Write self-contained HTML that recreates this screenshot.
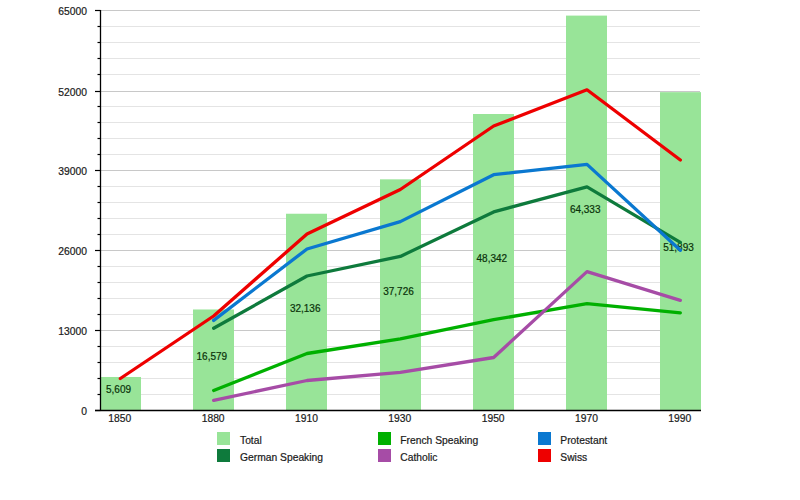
<!DOCTYPE html>
<html><head><meta charset="utf-8"><style>
html,body{margin:0;padding:0;background:#fff;}
svg{display:block;}
.t{font-family:"Liberation Sans",sans-serif;font-size:10.3px;fill:#1a1a1a;stroke:#1a1a1a;stroke-width:0.2px;}
.l{font-family:"Liberation Sans",sans-serif;font-size:10px;fill:#0a320a;stroke:#0a320a;stroke-width:0.2px;}
</style></head><body>
<svg width="800" height="500" viewBox="0 0 800 500">
<rect x="0" y="0" width="800" height="500" fill="#fff"/>
<line x1="101" y1="10.5" x2="700" y2="10.5" stroke="#c8c8c8" stroke-width="1"/>
<line x1="101" y1="26.5" x2="700" y2="26.5" stroke="#e4e4e4" stroke-width="1"/>
<line x1="101" y1="42.5" x2="700" y2="42.5" stroke="#e4e4e4" stroke-width="1"/>
<line x1="101" y1="58.5" x2="700" y2="58.5" stroke="#e4e4e4" stroke-width="1"/>
<line x1="101" y1="74.5" x2="700" y2="74.5" stroke="#e4e4e4" stroke-width="1"/>
<line x1="101" y1="91.5" x2="700" y2="91.5" stroke="#c8c8c8" stroke-width="1"/>
<line x1="101" y1="106.5" x2="700" y2="106.5" stroke="#e4e4e4" stroke-width="1"/>
<line x1="101" y1="122.5" x2="700" y2="122.5" stroke="#e4e4e4" stroke-width="1"/>
<line x1="101" y1="138.5" x2="700" y2="138.5" stroke="#e4e4e4" stroke-width="1"/>
<line x1="101" y1="154.5" x2="700" y2="154.5" stroke="#e4e4e4" stroke-width="1"/>
<line x1="101" y1="170.5" x2="700" y2="170.5" stroke="#c8c8c8" stroke-width="1"/>
<line x1="101" y1="186.5" x2="700" y2="186.5" stroke="#e4e4e4" stroke-width="1"/>
<line x1="101" y1="202.5" x2="700" y2="202.5" stroke="#e4e4e4" stroke-width="1"/>
<line x1="101" y1="218.5" x2="700" y2="218.5" stroke="#e4e4e4" stroke-width="1"/>
<line x1="101" y1="234.5" x2="700" y2="234.5" stroke="#e4e4e4" stroke-width="1"/>
<line x1="101" y1="250.5" x2="700" y2="250.5" stroke="#c8c8c8" stroke-width="1"/>
<line x1="101" y1="266.5" x2="700" y2="266.5" stroke="#e4e4e4" stroke-width="1"/>
<line x1="101" y1="282.5" x2="700" y2="282.5" stroke="#e4e4e4" stroke-width="1"/>
<line x1="101" y1="298.5" x2="700" y2="298.5" stroke="#e4e4e4" stroke-width="1"/>
<line x1="101" y1="314.5" x2="700" y2="314.5" stroke="#e4e4e4" stroke-width="1"/>
<line x1="101" y1="330.5" x2="700" y2="330.5" stroke="#c8c8c8" stroke-width="1"/>
<line x1="101" y1="346.5" x2="700" y2="346.5" stroke="#e4e4e4" stroke-width="1"/>
<line x1="101" y1="362.5" x2="700" y2="362.5" stroke="#e4e4e4" stroke-width="1"/>
<line x1="101" y1="378.5" x2="700" y2="378.5" stroke="#e4e4e4" stroke-width="1"/>
<line x1="101" y1="394.5" x2="700" y2="394.5" stroke="#e4e4e4" stroke-width="1"/>
<rect x="100" y="376.98" width="41" height="33.52" fill="#98e498"/>
<rect x="193" y="309.48" width="41" height="101.02" fill="#98e498"/>
<rect x="286" y="213.74" width="41" height="196.76" fill="#98e498"/>
<rect x="380" y="179.34" width="41" height="231.16" fill="#98e498"/>
<rect x="473" y="114.01" width="41" height="296.49" fill="#98e498"/>
<rect x="566" y="15.60" width="41" height="394.90" fill="#98e498"/>
<rect x="660" y="92.16" width="41" height="318.34" fill="#98e498"/>
<text x="118.53" y="393.34" text-anchor="middle" class="l">5,609</text>
<text x="211.86" y="359.59" text-anchor="middle" class="l">16,579</text>
<text x="305.20" y="311.72" text-anchor="middle" class="l">32,136</text>
<text x="398.53" y="294.52" text-anchor="middle" class="l">37,726</text>
<text x="491.86" y="261.86" text-anchor="middle" class="l">48,342</text>
<text x="585.20" y="212.65" text-anchor="middle" class="l">64,333</text>
<text x="678.53" y="250.93" text-anchor="middle" class="l">51,893</text>
<polyline points="213.66,390.5 307.00,353.5 400.33,338.9 493.66,319.7 587.00,303.6 680.33,312.8" fill="none" stroke="#00b000" stroke-width="3.3" stroke-linejoin="round" stroke-linecap="round"/>
<polyline points="213.66,400.4 307.00,380.5 400.33,372.3 493.66,357.5 587.00,271.6 680.33,300.3" fill="none" stroke="#a64ca6" stroke-width="3.3" stroke-linejoin="round" stroke-linecap="round"/>
<polyline points="213.66,328.2 307.00,276 400.33,256.4 493.66,211.9 587.00,186.8 680.33,242.3" fill="none" stroke="#0e7a3c" stroke-width="3.3" stroke-linejoin="round" stroke-linecap="round"/>
<polyline points="213.66,320.4 307.00,249 400.33,221.6 493.66,174.7 587.00,164.4 680.33,250.3" fill="none" stroke="#0a78d0" stroke-width="3.3" stroke-linejoin="round" stroke-linecap="round"/>
<polyline points="120.33,378.5 213.66,316 307.00,234 400.33,189.5 493.66,126 587.00,89.8 680.33,160" fill="none" stroke="#ee0000" stroke-width="3.3" stroke-linejoin="round" stroke-linecap="round"/>
<line x1="100.5" y1="10" x2="100.5" y2="411" stroke="#000" stroke-width="1.3"/>
<line x1="95" y1="410.5" x2="701" y2="410.5" stroke="#000" stroke-width="1.3"/>
<line x1="95" y1="10.5" x2="100.5" y2="10.5" stroke="#000" stroke-width="1.2"/>
<line x1="97.5" y1="26.5" x2="100.5" y2="26.5" stroke="#000" stroke-width="1.2"/>
<line x1="97.5" y1="42.5" x2="100.5" y2="42.5" stroke="#000" stroke-width="1.2"/>
<line x1="97.5" y1="58.5" x2="100.5" y2="58.5" stroke="#000" stroke-width="1.2"/>
<line x1="97.5" y1="74.5" x2="100.5" y2="74.5" stroke="#000" stroke-width="1.2"/>
<line x1="95" y1="91.5" x2="100.5" y2="91.5" stroke="#000" stroke-width="1.2"/>
<line x1="97.5" y1="106.5" x2="100.5" y2="106.5" stroke="#000" stroke-width="1.2"/>
<line x1="97.5" y1="122.5" x2="100.5" y2="122.5" stroke="#000" stroke-width="1.2"/>
<line x1="97.5" y1="138.5" x2="100.5" y2="138.5" stroke="#000" stroke-width="1.2"/>
<line x1="97.5" y1="154.5" x2="100.5" y2="154.5" stroke="#000" stroke-width="1.2"/>
<line x1="95" y1="170.5" x2="100.5" y2="170.5" stroke="#000" stroke-width="1.2"/>
<line x1="97.5" y1="186.5" x2="100.5" y2="186.5" stroke="#000" stroke-width="1.2"/>
<line x1="97.5" y1="202.5" x2="100.5" y2="202.5" stroke="#000" stroke-width="1.2"/>
<line x1="97.5" y1="218.5" x2="100.5" y2="218.5" stroke="#000" stroke-width="1.2"/>
<line x1="97.5" y1="234.5" x2="100.5" y2="234.5" stroke="#000" stroke-width="1.2"/>
<line x1="95" y1="250.5" x2="100.5" y2="250.5" stroke="#000" stroke-width="1.2"/>
<line x1="97.5" y1="266.5" x2="100.5" y2="266.5" stroke="#000" stroke-width="1.2"/>
<line x1="97.5" y1="282.5" x2="100.5" y2="282.5" stroke="#000" stroke-width="1.2"/>
<line x1="97.5" y1="298.5" x2="100.5" y2="298.5" stroke="#000" stroke-width="1.2"/>
<line x1="97.5" y1="314.5" x2="100.5" y2="314.5" stroke="#000" stroke-width="1.2"/>
<line x1="95" y1="330.5" x2="100.5" y2="330.5" stroke="#000" stroke-width="1.2"/>
<line x1="97.5" y1="346.5" x2="100.5" y2="346.5" stroke="#000" stroke-width="1.2"/>
<line x1="97.5" y1="362.5" x2="100.5" y2="362.5" stroke="#000" stroke-width="1.2"/>
<line x1="97.5" y1="378.5" x2="100.5" y2="378.5" stroke="#000" stroke-width="1.2"/>
<line x1="97.5" y1="394.5" x2="100.5" y2="394.5" stroke="#000" stroke-width="1.2"/>
<line x1="95" y1="410.5" x2="100.5" y2="410.5" stroke="#000" stroke-width="1.2"/>
<text x="87" y="15.0" text-anchor="end" class="t">65000</text>
<text x="87" y="95.5" text-anchor="end" class="t">52000</text>
<text x="87" y="175.0" text-anchor="end" class="t">39000</text>
<text x="87" y="255.0" text-anchor="end" class="t">26000</text>
<text x="87" y="335.0" text-anchor="end" class="t">13000</text>
<text x="87" y="415.0" text-anchor="end" class="t">0</text>
<text x="119.83" y="421.5" text-anchor="middle" class="t">1850</text>
<text x="213.16" y="421.5" text-anchor="middle" class="t">1880</text>
<text x="306.50" y="421.5" text-anchor="middle" class="t">1910</text>
<text x="399.83" y="421.5" text-anchor="middle" class="t">1930</text>
<text x="493.16" y="421.5" text-anchor="middle" class="t">1950</text>
<text x="586.50" y="421.5" text-anchor="middle" class="t">1970</text>
<text x="679.83" y="421.5" text-anchor="middle" class="t">1990</text>
<rect x="217" y="432" width="13" height="13" fill="#98e498"/>
<text x="240" y="443.5" class="t">Total</text>
<rect x="378" y="432" width="13" height="13" fill="#00b000"/>
<text x="400.3" y="443.5" class="t">French Speaking</text>
<rect x="538" y="432" width="13" height="13" fill="#0a78d0"/>
<text x="560.3" y="443.5" class="t">Protestant</text>
<rect x="217" y="449" width="13" height="13" fill="#0e7a3c"/>
<text x="240" y="460.5" class="t">German Speaking</text>
<rect x="378" y="449" width="13" height="13" fill="#a64ca6"/>
<text x="400.3" y="460.5" class="t">Catholic</text>
<rect x="538" y="449" width="13" height="13" fill="#ee0000"/>
<text x="560.3" y="460.5" class="t">Swiss</text>
</svg></body></html>
